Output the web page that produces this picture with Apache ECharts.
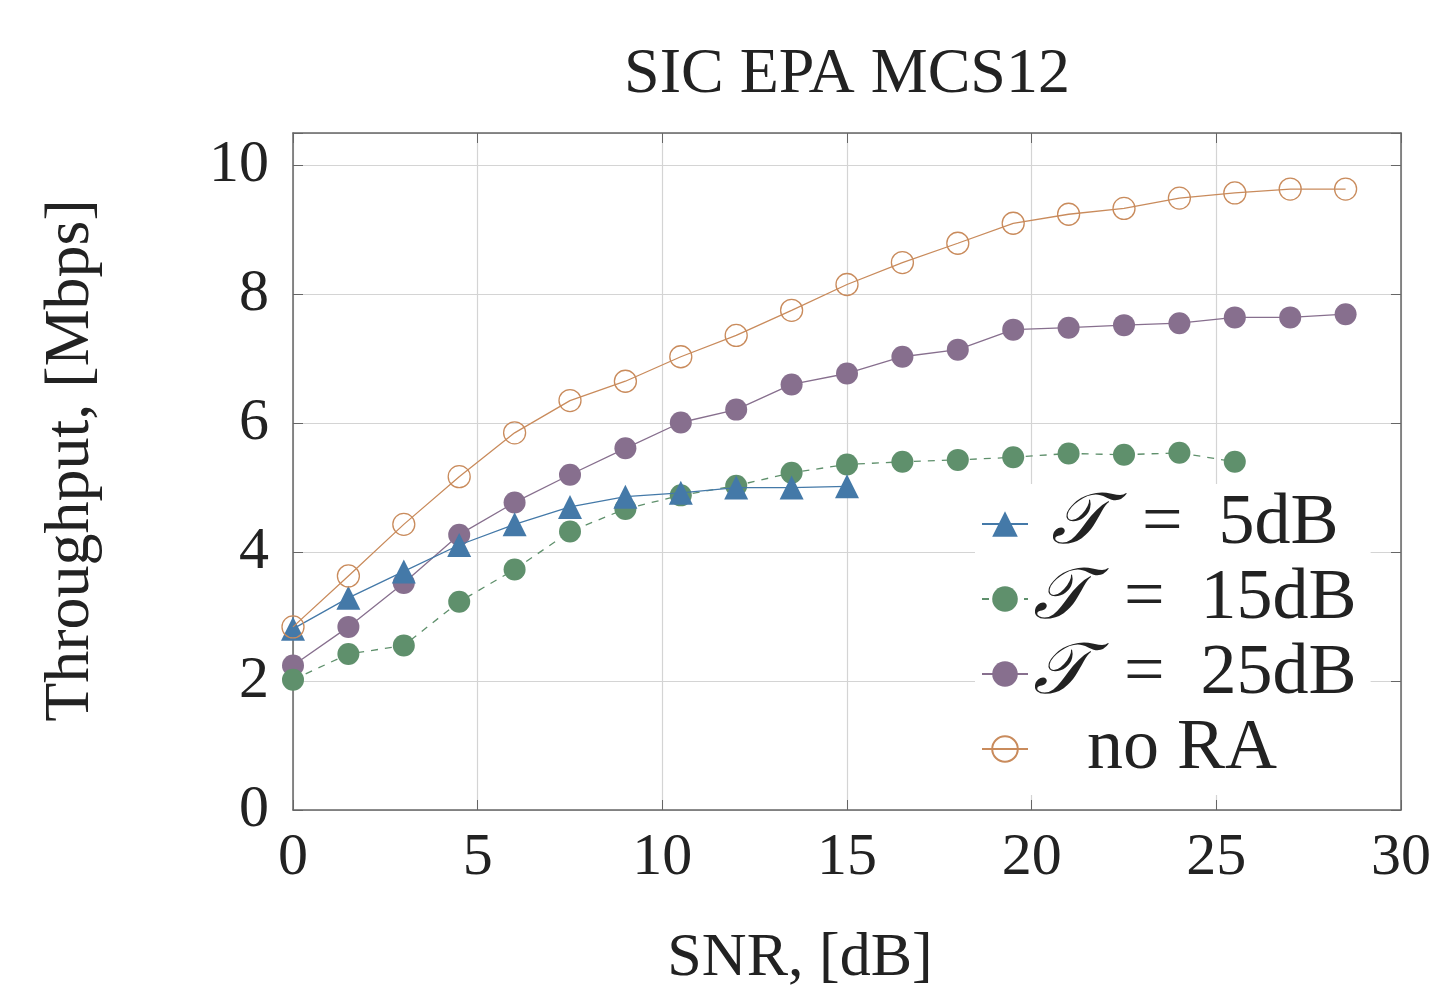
<!DOCTYPE html>
<html>
<head>
<meta charset="utf-8">
<script src="https://cdn.jsdelivr.net/npm/echarts@6/dist/echarts.min.js"></script>
<style>
  html, body { margin: 0; padding: 0; background: #fff; }
  #chart { width: 1437px; height: 987px; }
</style>
</head>
<body>
<div id="chart"></div>
<script>
// SNR points, dB
var snr = [0, 1.5, 3, 4.5, 6, 7.5, 9, 10.5, 12, 13.5, 15, 16.5, 18, 19.5, 21, 22.5, 24, 25.5, 27, 28.5];

// throughput, Mbps
var t5dB = [2.81, 3.29, 3.70, 4.11, 4.43, 4.70, 4.86, 4.92, 5.00, 5.00, 5.02];
var t15dB = [2.02, 2.42, 2.55, 3.23, 3.73, 4.32, 4.67, 4.88, 5.03, 5.23, 5.36, 5.40, 5.43, 5.47, 5.53, 5.51, 5.54, 5.40];
var t25dB = [2.24, 2.84, 3.52, 4.27, 4.77, 5.20, 5.61, 6.01, 6.21, 6.60, 6.77, 7.03, 7.14, 7.45, 7.48, 7.52, 7.55, 7.64, 7.64, 7.69];
var noRA = [2.84, 3.63, 4.43, 5.17, 5.85, 6.35, 6.65, 7.03, 7.36, 7.75, 8.15, 8.49, 8.79, 9.10, 9.24, 9.33, 9.49, 9.57, 9.63, 9.63];

var xTicks = [0, 5, 10, 15, 20, 25, 30];
var yTicks = [0, 2, 4, 6, 8, 10];

var FONT = '"Liberation Serif", "DejaVu Serif", serif';
var C_BLUE = '#4479a8', C_GREEN = '#5f906c', C_PURPLE = '#876f8e', C_ORANGE = '#c98b5c';

function pairs(ys) {
    return ys.map(function (y, i) { return [snr[i], y]; });
}

var chart = echarts.init(document.getElementById('chart'));

var boxLine = { color: '#666', width: 1.5 };

var option = {
    animation: false,
    backgroundColor: '#fff',
    title: {
        text: 'SIC EPA MCS12',
        left: 842,
        textAlign: 'center',
        top: 38,
        textStyle: { fontFamily: FONT, fontSize: 64, fontWeight: 'normal', color: '#222' }
    },
    grid: { left: 293, right: 36, top: 133, bottom: 177, outerBoundsMode: 'none', containLabel: false },
    legend: {
        left: 975,
        top: 484,
        orient: 'vertical',
        backgroundColor: '#fff',
        padding: [4, 14, 10, 6],
        itemGap: 3,
        itemWidth: 46,
        itemHeight: 32,
        data: ['T5', 'T15', 'T25', 'noRA'],
        formatter: function (name) {
            if (name === 'T5') return ' {t|𝒯}  =  5dB';
            if (name === 'T15') return '{t|𝒯}  =  15dB';
            if (name === 'T25') return '{t|𝒯}  =  25dB';
            return '   no RA';
        },
        textStyle: {
            fontFamily: FONT, fontSize: 72, color: '#222', lineHeight: 72,
            rich: { t: { fontFamily: FONT, fontSize: 72, fontStyle: 'italic', color: '#222' } }
        }
    },
    xAxis: [{
        type: 'value', min: 0, max: 30, interval: 5,
        name: 'SNR, [dB]', nameLocation: 'middle', nameGap: 118,
        nameTextStyle: { fontFamily: FONT, fontSize: 62, color: '#222', padding: [0, 94, 0, 0] },
        axisLine: { show: true, onZero: false, lineStyle: boxLine },
        axisTick: { show: true, inside: true, length: 10, lineStyle: { color: '#666' } },
        axisLabel: {
            fontFamily: FONT, fontSize: 60, color: '#222', margin: 18,
            formatter: function (v) { return xTicks.indexOf(v) >= 0 ? String(v) : ''; }
        },
        splitLine: { show: true, lineStyle: { color: '#d4d4d4', width: 1.2 } }
    }, {
        type: 'value', min: 0, max: 30, interval: 5, position: 'top',
        axisLine: { show: true, onZero: false, lineStyle: boxLine },
        axisTick: { show: true, inside: true, length: 10, lineStyle: { color: '#666' } },
        axisLabel: { show: false }, splitLine: { show: false }
    }],
    yAxis: [{
        type: 'value', min: 0, max: 10.5, interval: 2,
        name: 'Throughput, [Mbps]', nameLocation: 'middle', nameGap: 190, nameRotate: 90,
        nameTextStyle: { fontFamily: FONT, fontSize: 64, color: '#222', padding: [0, 0, 0, 22] },
        axisLine: { show: true, onZero: false, lineStyle: boxLine },
        axisTick: { show: true, inside: true, length: 10, lineStyle: { color: '#666' } },
        axisLabel: {
            fontFamily: FONT, fontSize: 60, color: '#222', margin: 24,
            formatter: function (v) { return yTicks.indexOf(v) >= 0 ? String(v) : ''; }
        },
        splitLine: { show: true, lineStyle: { color: '#d4d4d4', width: 1.2 } }
    }, {
        type: 'value', min: 0, max: 10.5, interval: 2, position: 'right',
        axisLine: { show: true, onZero: false, lineStyle: boxLine },
        axisTick: { show: true, inside: true, length: 10, lineStyle: { color: '#666' } },
        axisLabel: { show: false }, splitLine: { show: false }
    }],
    series: [{
        name: 'T5', type: 'line', data: pairs(t5dB),
        symbol: 'triangle', symbolSize: 24,
        itemStyle: { color: C_BLUE },
        lineStyle: { color: C_BLUE, width: 1.3 },
        z: 4
    }, {
        name: 'T15', type: 'line', data: pairs(t15dB),
        symbol: 'circle', symbolSize: 22,
        itemStyle: { color: C_GREEN },
        lineStyle: { color: C_GREEN, width: 1.3, type: [7, 7] },
        z: 3
    }, {
        name: 'T25', type: 'line', data: pairs(t25dB),
        symbol: 'circle', symbolSize: 22,
        itemStyle: { color: C_PURPLE },
        lineStyle: { color: C_PURPLE, width: 1.3 },
        z: 2
    }, {
        name: 'noRA', type: 'line', data: pairs(noRA),
        symbol: 'circle', symbolSize: 22,
        itemStyle: { color: 'rgba(255,255,255,0)', borderColor: C_ORANGE, borderWidth: 1.3 },
        lineStyle: { color: C_ORANGE, width: 1.3 },
        z: 5
    }]
};

chart.setOption(option);
</script>
</body>
</html>
